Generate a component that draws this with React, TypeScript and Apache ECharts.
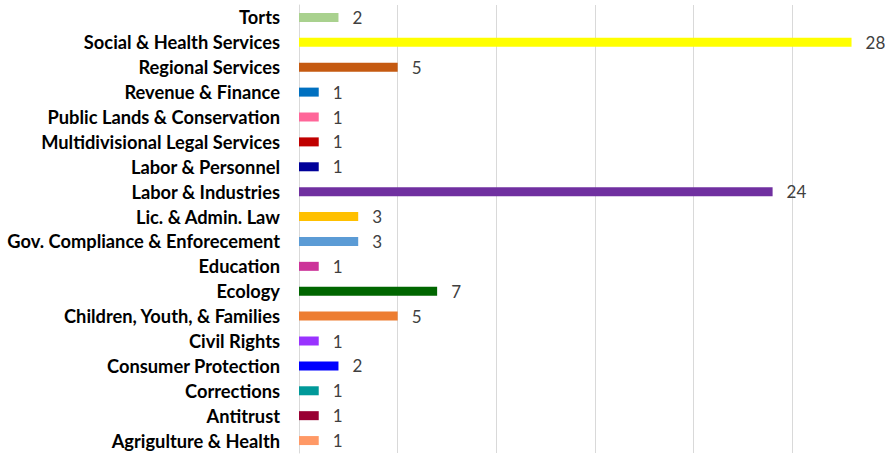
import React, { useEffect, useRef } from "react";
import * as echarts from "echarts";

const categories = [
  "Torts",
  "Social & Health Services",
  "Regional Services",
  "Revenue & Finance",
  "Public Lands & Conservation",
  "Multidivisional Legal Services",
  "Labor & Personnel",
  "Labor & Industries",
  "Lic. & Admin. Law",
  "Gov. Compliance & Enforecement",
  "Education",
  "Ecology",
  "Children, Youth, & Families",
  "Civil Rights",
  "Consumer Protection",
  "Corrections",
  "Antitrust",
  "Agrigulture & Health",
];

const values = [2, 28, 5, 1, 1, 1, 1, 24, 3, 3, 1, 7, 5, 1, 2, 1, 1, 1];

const barColors = [
  "#a9d18e",
  "#ffff00",
  "#c55a11",
  "#0070c0",
  "#ff6699",
  "#c00000",
  "#000099",
  "#7030a0",
  "#ffc000",
  "#5b9bd5",
  "#cc3399",
  "#006600",
  "#ed7d31",
  "#9933ff",
  "#0000ff",
  "#009999",
  "#990033",
  "#ff9966",
];

export default function App() {
  const ref = useRef<HTMLDivElement>(null);
  useEffect(() => {
    document.body.style.overflow = "hidden";
    if (!ref.current) return;
    const chart = echarts.init(ref.current, null, { renderer: "svg" });
    chart.setOption({
      animation: false,
      backgroundColor: "#ffffff",
      grid: { left: 299, top: 5, width: 592, height: 448, containLabel: false },
      xAxis: {
        type: "value",
        min: 0,
        max: 30,
        interval: 5,
        axisLabel: { show: false },
        axisLine: { show: false },
        axisTick: { show: false },
        splitLine: { show: true, lineStyle: { color: "#d9d9d9", width: 1 } },
      },
      yAxis: {
        type: "category",
        inverse: true,
        data: categories,
        axisLine: { show: true, lineStyle: { color: "#d9d9d9", width: 1 } },
        axisTick: { show: false },
        axisLabel: {
          color: "#000000",
          fontWeight: "bold",
          fontFamily: "Lato",
          fontSize: 18.3,
          margin: 19,
        },
      },
      series: [
        {
          type: "bar",
          barWidth: 9,
          data: values.map((v, i) => ({ value: v, itemStyle: { color: barColors[i] } })),
          label: {
            show: true,
            position: "right",
            distance: 14,
            color: "#404040",
            fontFamily: "Lato",
            fontSize: 17,
          },
        },
      ],
    });
    return () => chart.dispose();
  }, []);
  return (
    <div
      ref={ref}
      style={{ position: "fixed", left: 0, top: 0, width: 900, height: 454 }}
    />
  );
}
